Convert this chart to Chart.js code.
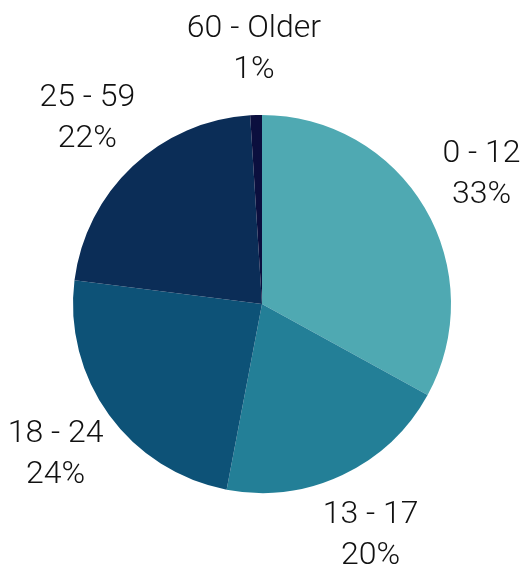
<!DOCTYPE html>
<html lang="en">
<head>
    <meta charset="UTF-8">
    <title>Age Groups</title>
    <script src="https://cdn.jsdelivr.net/npm/chart.js"></script>
    <style>
        html, body {
            margin: 0;
            padding: 0;
            background: #ffffff;
        }
        #chart-container {
            width: 522px;
            height: 566px;
        }
    </style>
</head>
<body>
    <div id="chart-container">
        <canvas id="ageChart"></canvas>
    </div>

    <script>
        // Chart data
        const ageGroups = ['0 - 12', '13 - 17', '18 - 24', '25 - 59', '60 - Older'];
        const shares = [33, 20, 24, 22, 1];
        const sliceColors = ['#4fa9b2', '#237f97', '#0d5277', '#0b2d57', '#0b0f3e'];

        // Draw "category / percent" labels outside each slice
        const outsideLabels = {
            id: 'outsideLabels',
            afterDatasetsDraw(chart) {
                const ctx = chart.ctx;
                const meta = chart.getDatasetMeta(0);
                ctx.save();
                ctx.fillStyle = '#111111';
                ctx.font = '300 32px Roboto, sans-serif';
                ctx.textAlign = 'center';
                ctx.textBaseline = 'middle';
                meta.data.forEach((arc, i) => {
                    const p = arc.getProps(['x', 'y', 'startAngle', 'endAngle', 'outerRadius'], true);
                    const mid = (p.startAngle + p.endAngle) / 2;
                    const dist = p.outerRadius + 66;
                    const cx = p.x + Math.cos(mid) * dist;
                    const cy = p.y + Math.sin(mid) * dist;
                    ctx.fillText(ageGroups[i], cx, cy - 20);
                    ctx.fillText(shares[i] + '%', cx, cy + 21);
                });
                ctx.restore();
            }
        };

        const ctx = document.getElementById('ageChart').getContext('2d');
        new Chart(ctx, {
            type: 'pie',
            data: {
                labels: ageGroups,
                datasets: [{
                    data: shares,
                    backgroundColor: sliceColors,
                    borderWidth: 0
                }]
            },
            options: {
                responsive: true,
                maintainAspectRatio: false,
                animation: false,
                layout: {
                    padding: { top: 115, bottom: 73, left: 73, right: 71 }
                },
                plugins: {
                    legend: { display: false },
                    tooltip: { enabled: false }
                }
            },
            plugins: [outsideLabels]
        });
    </script>
</body>
</html>
